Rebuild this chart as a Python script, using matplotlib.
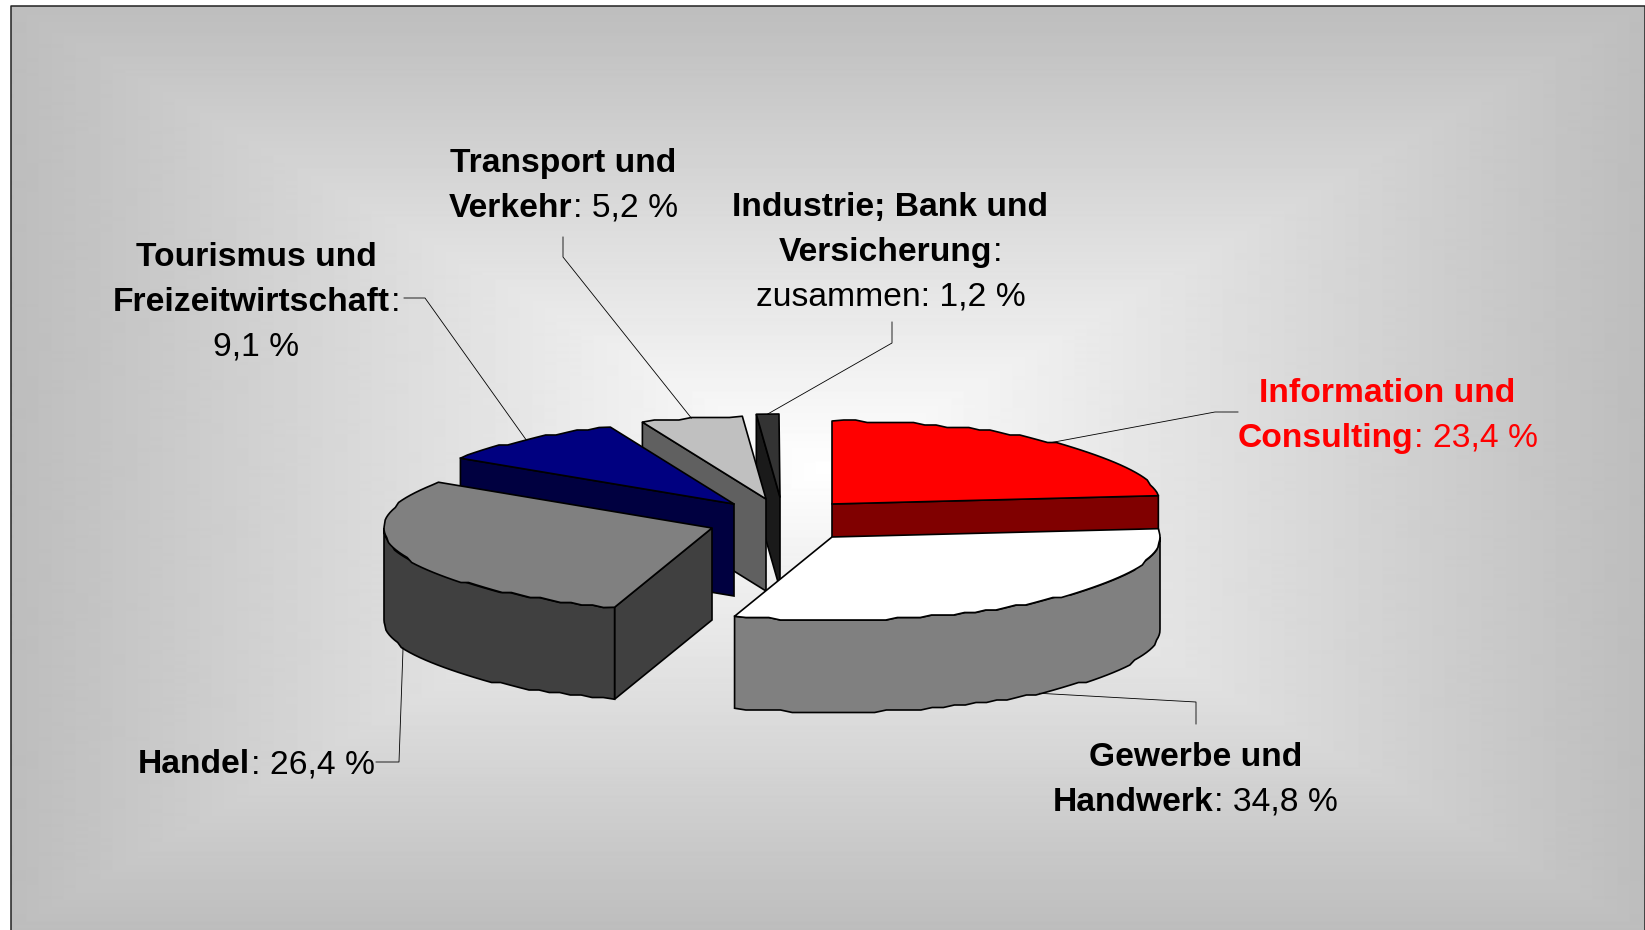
import numpy as np
import matplotlib
matplotlib.use('Agg')
import matplotlib.pyplot as plt
from matplotlib.patches import Polygon

plt.rcParams['font.family'] = ['Liberation Sans', 'DejaVu Sans']

# -------------------------------------------------------------
# Data (shares, the printed labels differ a bit)
# -------------------------------------------------------------
categories = ['Information und Consulting', 'Gewerbe und Handwerk', 'Handel',
              'Tourismus und Freizeitwirtschaft', 'Transport und Verkehr',
              'Industrie; Bank und Versicherung']
drawn_shares = [23.4, 31.4, 29.5, 9.55, 5.0, 1.1]
top_colors  = ['#ff0000', '#ffffff', '#808080', '#000080', '#c0c0c0', '#333333']
side_colors = ['#800000', '#808080', '#404040', '#000040', '#606060', '#1a1a1a']

label_lines = [
    [[('Information und', True)], [('Consulting', True), (': 23,4 %', False)]],
    [[('Gewerbe und', True)], [('Handwerk', True), (': 34,8 %', False)]],
    [[('Handel', True), (': 26,4 %', False)]],
    [[('Tourismus und', True)], [('Freizeitwirtschaft', True), (':', False)], [('9,1 %', False)]],
    [[('Transport und', True)], [('Verkehr', True), (': 5,2 %', False)]],
    [[('Industrie; Bank und', True)], [('Versicherung', True), (':', False)], [('zusammen: 1,2 %', False)]],
]
label_colors = ['#ff0000', 'black', 'black', 'black', 'black', 'black']

# -------------------------------------------------------------
# Layout, pixels of the 1645x930 picture
# -------------------------------------------------------------
W, H = 1645, 930
rx, ry, depth = 328.0, 83.0, 92.0
apex_x = [832, 832, 712, 734, 766, 780]
apex_y = [504, 537, 528, 504, 499, 497]
label_x = [1388, 1196, 257, 257, 564, 891]
label_y = [402, 766, 773, 266, 172, 216]     # baseline of first line
line_step = 44.7
leader_start = [(1238, 412), (1196, 724), (376, 762), (404, 298), (563, 237), (892, 322)]
leader_bend  = [(1215, 412), (1196, 702), (399, 762), (425, 298), (563, 257), (892, 343)]
draw_order = [5, 4, 3, 0, 2, 1]   # back to front


def rim(ax_, ay_, t1, t2, dz=0.0):
    # arc of the slice, y snapped a bit like the stepped outline of the original
    n = max(int(abs(t2 - t1) / 2.0), 2)
    t = np.radians(np.linspace(t1, t2, n))
    x = ax_ + rx * np.sin(t)
    y = ay_ - ry * np.cos(t) + dz
    y[1:-1] = np.round(y[1:-1] / 2.5) * 2.5
    return np.column_stack([x, y])


fig = plt.figure(figsize=(W / 100, H / 100), dpi=100)
ax = fig.add_axes([0, 0, 1, 1])
ax.set_xlim(0, W)
ax.set_ylim(H, 0)
ax.axis('off')

# -------------------------------------------------------------
# Background gradient and frame
# -------------------------------------------------------------
xx, yy = np.meshgrid(np.arange(11, W), np.arange(7, H))
dist = np.maximum(np.abs(xx - 828) / 817.0, np.abs(yy - 468) / 462.0)
ax.imshow(np.clip(255 - 66 * dist, 0, 255), cmap='gray', vmin=0, vmax=255,
          extent=(11, W, H, 7), aspect='auto', zorder=0, interpolation='bilinear')
ax.set_xlim(0, W)
ax.set_ylim(H, 0)
ax.plot([10.5, 10.5, 1644.5, 1644.5], [H, 6.5, 6.5, H], color='#222222', lw=1.1, zorder=1)

# -------------------------------------------------------------
# Slices
# -------------------------------------------------------------
edges = np.concatenate([[0.0], np.cumsum(drawn_shares)]) * 3.6
lw = 1.2
z = 2
for i in draw_order:
    t1, t2 = edges[i], edges[i + 1]
    ox, oy = apex_x[i], apex_y[i]
    p1 = (ox + rx * np.sin(np.radians(t1)), oy - ry * np.cos(np.radians(t1)))
    p2 = (ox + rx * np.sin(np.radians(t2)), oy - ry * np.cos(np.radians(t2)))

    # radial faces, only those turned to the viewer
    for p, vis in [(p1, np.sin(np.radians(t1)) < 0), (p2, np.sin(np.radians(t2)) > 0)]:
        if vis:
            face = [(ox, oy), p, (p[0], p[1] + depth), (ox, oy + depth)]
            ax.add_patch(Polygon(face, closed=True, fc=side_colors[i], ec='black', lw=lw, zorder=z))

    # outer wall
    a, b = max(t1, 90.0), min(t2, 270.0)
    if a < b:
        wall = np.vstack([rim(ox, oy, a, b), rim(ox, oy, b, a, depth)])
        ax.add_patch(Polygon(wall, closed=True, fc=side_colors[i], ec='black', lw=lw, zorder=z))

    # top
    top = np.vstack([[(ox, oy)], rim(ox, oy, t1, t2)])
    ax.add_patch(Polygon(top, closed=True, fc=top_colors[i], ec='black', lw=lw, joinstyle='round', zorder=z))
    z += 1

# -------------------------------------------------------------
# Leader lines, ending at the middle of each slice
# -------------------------------------------------------------
for i in range(len(categories)):
    tm = np.radians(0.5 * (edges[i] + edges[i + 1]))
    ex = apex_x[i] + rx * np.sin(tm)
    ey = apex_y[i] - ry * np.cos(tm)
    if np.cos(tm) < 0:
        ey += depth
    xs = [leader_start[i][0], leader_bend[i][0], ex]
    ys = [leader_start[i][1], leader_bend[i][1], ey]
    ax.plot(xs, ys, color='black', lw=0.6, zorder=z)

# -------------------------------------------------------------
# Labels: bold and regular runs in one centred line
# -------------------------------------------------------------
renderer = fig.canvas.get_renderer()
for i, lines in enumerate(label_lines):
    for k, runs in enumerate(lines):
        items = []
        total = 0.0
        for s, bold in runs:
            t = ax.text(0, 0, s, fontsize=24.2, fontweight='bold' if bold else 'normal',
                        color=label_colors[i], ha='left', va='baseline', zorder=z + 1)
            w = t.get_window_extent(renderer).width
            items.append((t, w))
            total += w + 1
        x = label_x[i] - total / 2.0
        for t, w in items:
            t.set_position((x, label_y[i] + k * line_step))
            x += w + 1

fig.savefig('out.png', dpi=100)
